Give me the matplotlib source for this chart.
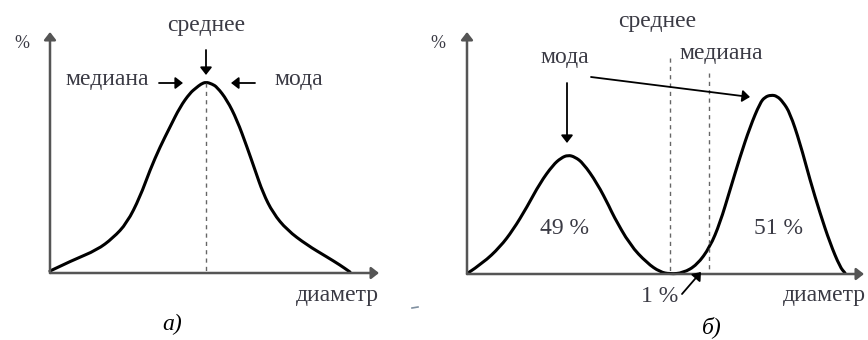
import matplotlib
matplotlib.use('Agg')
import matplotlib.pyplot as plt
from matplotlib.path import Path
from matplotlib.patches import PathPatch

# ---- curve points (pixel coords, y down) ----
left_x = [50, 73, 97, 113, 127, 140, 150, 160, 170, 180, 190, 196, 201, 206,
          212, 217, 227, 237, 247, 255, 263, 273, 287, 307, 327, 340, 350]
left_y = [271, 260, 250, 238, 223, 197, 170, 147, 127, 107, 93, 88, 84, 82,
          84, 87, 100, 120, 147, 170, 193, 213, 230, 245, 257, 265, 272]

right_x = [468, 483, 500, 513, 527, 540, 553, 561, 568, 575, 583, 597, 610,
           613, 630, 647, 660, 670, 683, 697, 710, 720, 730, 740, 750,
           760, 765, 771, 777, 783, 790, 800, 810, 820, 830, 840, 845]
right_y = [273, 263, 247, 230, 207, 183, 165, 158, 155, 157, 163, 183, 208,
           215, 245, 263, 272, 274, 273, 265, 247, 223, 190, 157, 127,
           103, 97, 95, 96, 102, 113, 143, 180, 213, 243, 267, 273]

left_mean_x = 206
right_mean_x = 670
right_median_x = 709

TXT = '#3a3a44'
AX = '#555555'

plt.rcParams['font.family'] = ['Liberation Serif', 'DejaVu Serif']
fs = 17

fig = plt.figure(figsize=(8.68, 3.40), dpi=100)
ax = fig.add_axes([0, 0, 1, 1])
ax.set_xlim(0, 868)
ax.set_ylim(340, 0)
ax.axis('off')


def smooth_curve(xs, ys):
    # quadratic b-spline through the read points: each point is a control point
    verts = [(xs[0], ys[0])]
    codes = [Path.MOVETO]
    for i in range(1, len(xs) - 1):
        verts += [(xs[i], ys[i]), ((xs[i] + xs[i+1]) / 2, (ys[i] + ys[i+1]) / 2)]
        codes += [Path.CURVE3, Path.CURVE3]
    verts.append((xs[-1], ys[-1]))
    codes.append(Path.LINETO)
    ax.add_patch(PathPatch(Path(verts, codes), fill=False, color='black', lw=2.2,
                           capstyle='round', joinstyle='round'))


def arrow(x0, y0, x1, y1, lw=1.3, hw=7, hl=9, color='black'):
    ax.annotate('', xy=(x1, y1), xytext=(x0, y0),
                arrowprops=dict(arrowstyle=f'-|>,head_width={hw/20:.2f},head_length={hl/20:.2f}',
                                color=color, lw=lw, shrinkA=0, shrinkB=0))


def axes_frame(x0, y0, xend, ytop):
    arrow(x0, y0, xend, y0, lw=1.8, color=AX)
    arrow(x0, y0, x0, ytop, lw=1.8, color=AX)


# ---- panel a ----
axes_frame(50, 273, 379, 32)
smooth_curve(left_x, left_y)
ax.plot([left_mean_x, left_mean_x], [83, 273], color='#666666', lw=1.0, ls=(0, (3, 3)))
ax.text(22, 43, '%', fontsize=13, color=TXT, ha='center', va='center')
ax.text(206, 26, 'среднее', fontsize=fs, color=TXT, ha='center', va='center')
arrow(206, 50, 206, 75)
ax.text(149, 79, 'медиана', fontsize=fs, color=TXT, ha='right', va='center')
arrow(159, 83, 183, 83)
ax.text(274, 79, 'мода', fontsize=fs, color=TXT, ha='left', va='center')
arrow(255, 83, 231, 83)
ax.text(379, 295, 'диаметр', fontsize=fs, color=TXT, ha='right', va='center')
ax.text(172, 324, 'а)', fontsize=fs, color='black', ha='center', va='center', style='italic')
ax.plot([412, 418], [308, 307], color='#8090a0', lw=1.2)

# ---- panel b ----
axes_frame(467, 274, 864, 32)
smooth_curve(right_x, right_y)
ax.plot([right_mean_x, right_mean_x], [58, 274], color='#666666', lw=1.0, ls=(0, (3, 3)))
ax.plot([right_median_x, right_median_x], [73, 274], color='#666666', lw=1.0, ls=(0, (3, 3)))
ax.text(438, 43, '%', fontsize=13, color=TXT, ha='center', va='center')
ax.text(657, 21, 'среднее', fontsize=fs, color=TXT, ha='center', va='center')
ax.text(721, 53, 'медиана', fontsize=fs, color=TXT, ha='center', va='center')
ax.text(565, 57, 'мода', fontsize=fs, color=TXT, ha='center', va='center')
arrow(567, 83, 567, 143)
arrow(591, 77, 750, 97)
ax.text(565, 228, '49 %', fontsize=fs, color=TXT, ha='center', va='center')
ax.text(778, 228, '51 %', fontsize=fs, color=TXT, ha='center', va='center')
ax.text(660, 296, '1 %', fontsize=fs, color=TXT, ha='center', va='center')
arrow(682, 294, 701, 272)
ax.text(866, 295, 'диаметр', fontsize=fs, color=TXT, ha='right', va='center')
ax.text(712, 327, 'б)', fontsize=fs, color='black', ha='center', va='center', style='italic')

fig.savefig('out.png', dpi=100, facecolor='white')
